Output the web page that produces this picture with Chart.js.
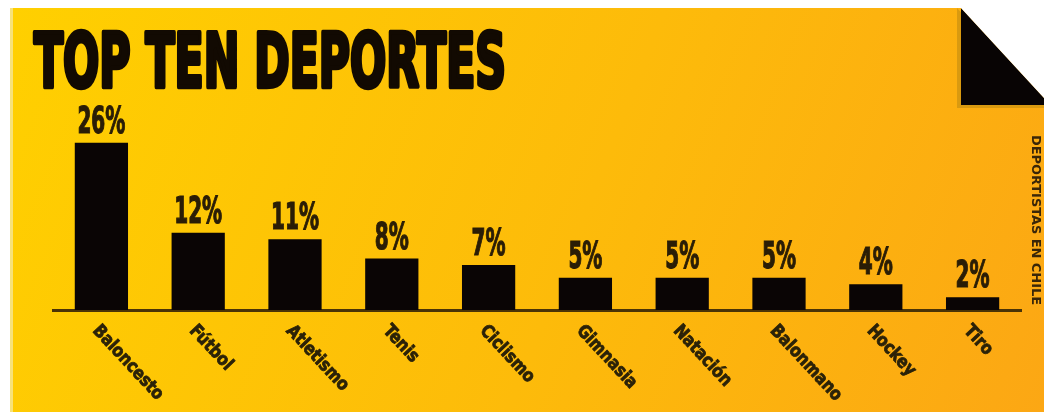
<!DOCTYPE html>
<html>
<head>
<meta charset="utf-8">
<script src="https://cdn.jsdelivr.net/npm/chart.js@4.4.1/dist/chart.umd.min.js"></script>
<style>
  html, body { margin: 0; padding: 0; background: #ffffff; overflow: hidden; }
  canvas { display: block; }
</style>
</head>
<body>
<canvas id="myChart" width="1044" height="412"></canvas>
<script>
const titulo = "TOP TEN DEPORTES";
const notaLateral = "DEPORTISTAS EN CHILE";
const categorias = [
    "Baloncesto",
    "Fútbol",
    "Atletismo",
    "Tenis",
    "Ciclismo",
    "Gimnasia",
    "Natación",
    "Balonmano",
    "Hockey",
    "Tiro",
];
const porcentajes = [26, 12, 11, 8, 7, 5, 5, 5, 4, 2];
const etiquetasValor = ["26%", "12%", "11%", "8%", "7%", "5%", "5%", "5%", "4%", "2%"];

const FUENTE = '"Liberation Sans Narrow", "DejaVu Sans Condensed", "DejaVu Sans", sans-serif';

// fondo amarillo con esquina doblada
const fondoPlugin = {
    id: 'fondo',
    beforeDraw(chart) {
        const ctx = chart.ctx;
        const w = chart.width, h = chart.height;
        ctx.save();
        ctx.fillStyle = '#ffffff';
        ctx.fillRect(0, 0, w, h);

        var grad = ctx.createLinearGradient(10, 8, w, h);
        grad.addColorStop(0, '#ffd000');
        grad.addColorStop(0.55, '#fdbb0a');
        grad.addColorStop(1, '#fca714');
        ctx.fillStyle = grad;
        ctx.fillRect(10, 8, w - 10, h - 8);

        ctx.fillStyle = '#f7e27a';
        ctx.fillRect(10, 8, 3, h - 8);

        // sombra de la esquina
        ctx.fillStyle = '#d99a10';
        ctx.beginPath();
        ctx.moveTo(957, 8);
        ctx.lineTo(957, 108);
        ctx.lineTo(w, 108);
        ctx.lineTo(w, 100);
        ctx.closePath();
        ctx.fill();

        ctx.fillStyle = '#080404';
        ctx.beginPath();
        ctx.moveTo(961, 8);
        ctx.lineTo(w, 98);
        ctx.lineTo(w, 105);
        ctx.lineTo(961, 105);
        ctx.closePath();
        ctx.fill();

        ctx.fillStyle = '#ffffff';
        ctx.beginPath();
        ctx.moveTo(957, 0);
        ctx.lineTo(w, 0);
        ctx.lineTo(w, 98);
        ctx.lineTo(961, 8);
        ctx.lineTo(957, 8);
        ctx.closePath();
        ctx.fill();
        ctx.restore();
    }
};

function escalaPara(ctx, texto, ancho) {
    return ancho / ctx.measureText(texto).width;
}

// textos: titulo, valores, categorias inclinadas
const textosPlugin = {
    id: 'textos',
    afterDatasetsDraw(chart) {
        const ctx = chart.ctx;
        const meta = chart.getDatasetMeta(0);
        const xScale = chart.scales.x;

        ctx.save();
        ctx.fillStyle = '#120a02';
        ctx.strokeStyle = '#120a02';
        ctx.lineJoin = 'round';
        ctx.font = 'bold 74px ' + FUENTE;
        var sx = escalaPara(ctx, titulo, 472);
        ctx.translate(34, 87);
        ctx.scale(sx, 1);
        ctx.textAlign = 'left';
        ctx.textBaseline = 'alphabetic';
        ctx.lineWidth = 4.5;
        ctx.fillText(titulo, 0, 0);
        ctx.strokeText(titulo, 0, 0);
        ctx.restore();

        ctx.save();
        ctx.font = 'bold 37px ' + FUENTE;
        var sv = escalaPara(ctx, "26%", 48);
        ctx.fillStyle = '#2a1d06';
        ctx.strokeStyle = '#2a1d06';
        ctx.lineWidth = 1.2;
        ctx.textAlign = 'center';
        ctx.textBaseline = 'alphabetic';
        meta.data.forEach((bar, i) => {
            ctx.save();
            ctx.translate(bar.x, bar.y - 10);
            ctx.scale(sv, 1);
            ctx.fillText(etiquetasValor[i], 0, 0);
            ctx.strokeText(etiquetasValor[i], 0, 0);
            ctx.restore();
        });
        ctx.restore();

        ctx.save();
        ctx.font = 'bold 18px ' + FUENTE;
        var sc = escalaPara(ctx, "Baloncesto", 95);
        ctx.fillStyle = '#2b2208';
        ctx.strokeStyle = '#2b2208';
        ctx.lineWidth = 0.8;
        ctx.textAlign = 'left';
        ctx.textBaseline = 'middle';
        categorias.forEach((c, i) => {
            ctx.save();
            ctx.translate(xScale.getPixelForValue(i) - 6, 328);
            ctx.rotate(47 * Math.PI / 180);
            ctx.scale(sc, 1);
            ctx.fillText(c, 0, 0);
            ctx.strokeText(c, 0, 0);
            ctx.restore();
        });
        ctx.restore();

        ctx.save();
        ctx.font = 'bold 12px ' + FUENTE;
        var sn = escalaPara(ctx, notaLateral, 170);
        ctx.fillStyle = '#3a2608';
        ctx.textAlign = 'left';
        ctx.textBaseline = 'middle';
        ctx.translate(1035, 135);
        ctx.rotate(Math.PI / 2);
        ctx.scale(sn, 1);
        ctx.fillText(notaLateral, 0, 0);
        ctx.restore();
    }
};

const data = {
    labels: categorias,
    datasets: [
        {
            label: titulo,
            data: porcentajes,
            backgroundColor: '#0a0505',
            borderWidth: 0,
            barPercentage: 0.55,
            categoryPercentage: 1.0,
        }
    ]
};

const config = {
    type: 'bar',
    data: data,
    options: {
        responsive: false,
        animation: false,
        layout: {
            padding: { left: 53, right: 23, top: 117, bottom: 102 }
        },
        plugins: {
            legend: { display: false },
            title: { display: false },
            tooltip: { enabled: false }
        },
        scales: {
            x: {
                grid: { display: false, drawTicks: false },
                ticks: { display: false },
                border: { display: true, color: '#4a3306', width: 3 }
            },
            y: {
                display: false,
                min: 0,
                max: 30
            }
        }
    },
    plugins: [fondoPlugin, textosPlugin]
};

var myChart = new Chart(document.getElementById('myChart'), config);
</script>
</body>
</html>
